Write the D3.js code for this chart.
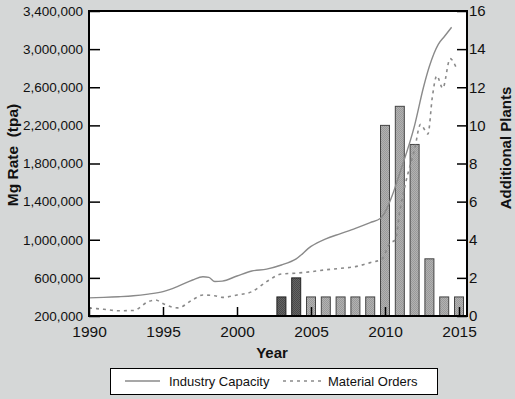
<!DOCTYPE html>
<html>
<head>
<meta charset="utf-8">
<script src="https://cdn.jsdelivr.net/npm/d3@7"></script>
<style>
	body { margin: 0; background: #d5d7d7; }
	svg { display: block; }
	.axis-text { font-family: 'Liberation Sans', Arial, sans-serif; fill: #111; }
</style>
</head>
<body>
<div id="chart"></div>
<script>
// Industry capacity (tpa)
const capYears = [1990, 1991, 1992, 1993, 1994, 1995, 1996, 1997, 1997.7, 1998.1, 1998.5, 1999, 2000, 2001, 2002, 2003, 2004, 2005, 2006, 2007, 2008, 2009, 2009.7, 2010, 2010.5, 2011, 2012, 2012.6, 2013, 2013.6, 2014, 2014.5];
const capValues = [390000, 395000, 402000, 412000, 430000, 455000, 510000, 578000, 612000, 605000, 562000, 566000, 620000, 672000, 692000, 735000, 800000, 930000, 1010000, 1065000, 1120000, 1180000, 1225000, 1290000, 1470000, 1700000, 2200000, 2600000, 2820000, 3050000, 3130000, 3230000];

// Material orders (tpa)
const ordYears = [1990, 1991, 1992, 1993, 1994, 1994.5, 1995, 1996, 1997, 1997.7, 1998.5, 1999, 2000, 2001, 2002, 2003, 2004, 2005, 2006, 2007, 2008, 2009, 2009.8, 2010.3, 2010.7, 2011, 2011.4, 2012, 2012.4, 2012.9, 2013.2, 2013.5, 2013.9, 2014.4, 2014.8];
const ordValues = [285000, 270000, 255000, 258000, 350000, 368000, 330000, 285000, 370000, 420000, 412000, 395000, 420000, 455000, 560000, 640000, 650000, 665000, 685000, 700000, 718000, 760000, 800000, 960000, 1000000, 1300000, 1600000, 1950000, 2210000, 2110000, 2500000, 2720000, 2590000, 2900000, 2810000];

// Additional plants per year
const plantYears = [2003, 2004, 2005, 2006, 2007, 2008, 2009, 2010, 2011, 2012, 2013, 2014, 2015];
const plantCounts = [1, 2, 1, 1, 1, 1, 1, 10, 11, 9, 3, 1, 1];
const darkYears = [2003, 2004];

const leftTicks = [200000, 600000, 1000000, 1400000, 1800000, 2200000, 2600000, 3000000, 3400000];
const rightTicks = [0, 2, 4, 6, 8, 10, 12, 14, 16];
const xTicks = [1990, 1995, 2000, 2005, 2010, 2015];

const W = 515, H = 399;
const margin = { left: 89, top: 11 };
const width = 378, height = 305;

const svg = d3.select('#chart').append('svg')
	.attr('width', W).attr('height', H);

// patterns for the stippled bars
const defs = svg.append('defs');
function stipple(id, a, b) {
	const p = defs.append('pattern').attr('id', id)
		.attr('width', 2).attr('height', 2).attr('patternUnits', 'userSpaceOnUse');
	p.append('rect').attr('width', 2).attr('height', 2).attr('fill', a);
	p.append('rect').attr('width', 1).attr('height', 1).attr('fill', b);
	p.append('rect').attr('x', 1).attr('y', 1).attr('width', 1).attr('height', 1).attr('fill', b);
}
stipple('lightDots', '#b2b2b2', '#9a9a9a');
stipple('darkDots', '#646464', '#4a4a4a');

const g = svg.append('g').attr('transform', `translate(${margin.left},${margin.top})`);

const x = d3.scaleLinear().domain([1990, 2015.54]).range([0, width]);
const yL = d3.scaleLinear().domain([200000, 3400000]).range([height, 0]);
const yR = d3.scaleLinear().domain([0, 16]).range([height, 0]);

// plot background
g.append('rect').attr('width', width).attr('height', height).attr('fill', '#fff');

// bars
g.append('g')
	.selectAll('rect')
	.data(plantYears.map((yr, i) => ({ yr, n: plantCounts[i] })))
	.enter()
	.append('rect')
	.attr('x', (d) => x(d.yr) - 4.5)
	.attr('y', (d) => yR(d.n))
	.attr('width', 9)
	.attr('height', (d) => height - yR(d.n))
	.attr('fill', (d) => darkYears.includes(d.yr) ? 'url(#darkDots)' : 'url(#lightDots)')
	.attr('stroke', (d) => darkYears.includes(d.yr) ? '#222' : '#444')
	.attr('stroke-width', 1);

const line = d3.line().x((d) => x(d[0])).y((d) => yL(d[1])).curve(d3.curveMonotoneX);

g.append('path')
	.datum(capYears.map((yr, i) => [yr, capValues[i]]))
	.attr('d', line)
	.attr('fill', 'none')
	.attr('stroke', '#8a8a8a')
	.attr('stroke-width', 1.4);

g.append('path')
	.datum(ordYears.map((yr, i) => [yr, ordValues[i]]))
	.attr('d', line)
	.attr('fill', 'none')
	.attr('stroke', '#8a8a8a')
	.attr('stroke-width', 1.6)
	.attr('stroke-dasharray', '3,4');

// axes with inward ticks
const axL = g.append('g')
	.call(d3.axisLeft(yL).tickValues(leftTicks).tickSize(-11).tickPadding(6).tickFormat(d3.format(',')));
const axR = g.append('g').attr('transform', `translate(${width},0)`)
	.call(d3.axisRight(yR).tickValues(rightTicks).tickSize(-10).tickPadding(2));
const axB = g.append('g').attr('transform', `translate(0,${height})`)
	.call(d3.axisBottom(x).tickValues(xTicks).tickSize(-9).tickPadding(10).tickFormat(d3.format('d')));

[axL, axR, axB].forEach((ax) => {
	ax.select('.domain').remove();
	ax.selectAll('line').attr('stroke', '#000').attr('stroke-width', 1.5);
	ax.selectAll('text').attr('class', 'axis-text').attr('fill', '#111');
});
axL.selectAll('text').style('font-size', '13.5px');
axR.selectAll('text').style('font-size', '15px');
axB.selectAll('text').style('font-size', '15.5px');

// frame
g.append('rect').attr('width', width).attr('height', height)
	.attr('fill', 'none').attr('stroke', '#000').attr('stroke-width', 2);

// axis titles
svg.append('text').attr('class', 'axis-text')
	.attr('transform', 'translate(18,155) rotate(-90)')
	.attr('text-anchor', 'middle')
	.style('font-size', '15.5px').style('font-weight', 'bold')
	.attr('xml:space', 'preserve')
	.text('Mg Rate  (tpa)');

svg.append('text').attr('class', 'axis-text')
	.attr('transform', 'translate(511,148) rotate(-90)')
	.attr('text-anchor', 'middle')
	.style('font-size', '15px').style('font-weight', 'bold')
	.text('Additional Plants');

svg.append('text').attr('class', 'axis-text')
	.attr('x', 272).attr('y', 358)
	.attr('text-anchor', 'middle')
	.style('font-size', '15px').style('font-weight', 'bold')
	.text('Year');

// legend
const legend = svg.append('g');
legend.append('rect').attr('x', 110.5).attr('y', 368.5).attr('width', 327).attr('height', 26)
	.attr('fill', '#fff').attr('stroke', '#000').attr('stroke-width', 1);
legend.append('line').attr('x1', 125).attr('x2', 160).attr('y1', 381).attr('y2', 381)
	.attr('stroke', '#8a8a8a').attr('stroke-width', 1.4);
legend.append('text').attr('class', 'axis-text').attr('x', 169).attr('y', 386)
	.style('font-size', '13px').text('Industry Capacity');
legend.append('line').attr('x1', 283).attr('x2', 322).attr('y1', 381).attr('y2', 381)
	.attr('stroke', '#8a8a8a').attr('stroke-width', 1.6).attr('stroke-dasharray', '3,4');
legend.append('text').attr('class', 'axis-text').attr('x', 328).attr('y', 386)
	.style('font-size', '13px').text('Material Orders');
</script>
</body>
</html>
